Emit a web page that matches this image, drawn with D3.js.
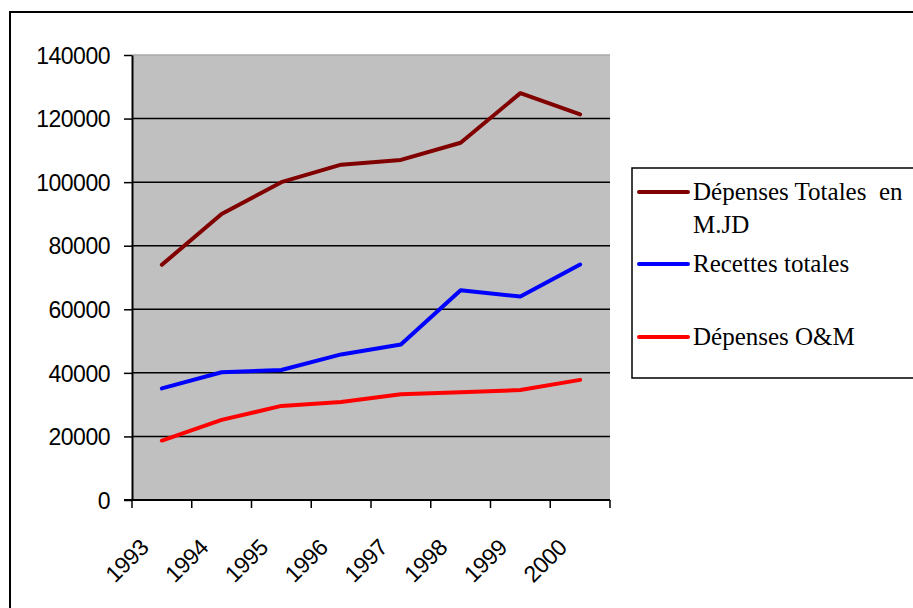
<!DOCTYPE html>
<html>
<head>
  <title>Dépenses et recettes</title>
  <script src="https://d3js.org/d3.v7.min.js"></script>
  <style>
    body { margin: 0; background: #fff; }
    .axis text { font-family: "Liberation Sans", Arial, sans-serif; font-size: 23px; fill: #000; letter-spacing: -0.5px; }
    .legend text { font-family: "Liberation Serif", "Times New Roman", serif; font-size: 25px; fill: #000; }
  </style>
</head>
<body>
<div id="chart"></div>
<script>
// data
const years = ["1993", "1994", "1995", "1996", "1997", "1998", "1999", "2000"];
const depensesTotales = [74000, 90000, 100000, 105500, 107000, 112400, 128000, 121300];
const recettesTotales = [35100, 40200, 40900, 45800, 48900, 66000, 64000, 74100];
const depensesOM = [18700, 25200, 29600, 30800, 33300, 33900, 34600, 37800];
const yTicks = [0, 20000, 40000, 60000, 80000, 100000, 120000, 140000];
const seriesNames = [["Dépenses Totales  en", "M.JD"], ["Recettes totales"], ["Dépenses O&M"]];
const seriesColors = ["#800000", "#0000ff", "#ff0000"];

const width = 913, height = 608;
const plot = { left: 132, right: 610, top: 55, bottom: 500 };

const svg = d3.select("#chart").append("svg")
  .attr("width", width)
  .attr("height", height);

// outer chart border (runs off the right and bottom of the picture)
svg.append("path")
  .attr("d", `M10,${height + 5} L10,12 L${width + 5},12`)
  .attr("fill", "none")
  .attr("stroke", "#000")
  .attr("stroke-width", 2);

const xScale = d3.scaleBand()
  .domain(years)
  .range([plot.left, plot.right])
  .paddingInner(0).paddingOuter(0);

const yScale = d3.scaleLinear()
  .domain([0, 140000])
  .range([plot.bottom, plot.top]);

// plot area
svg.append("rect")
  .attr("x", plot.left).attr("y", plot.top)
  .attr("width", plot.right - plot.left)
  .attr("height", plot.bottom - plot.top)
  .attr("fill", "#c0c0c0");

// gridlines
svg.append("g")
  .selectAll("line")
  .data(yTicks.filter(d => d > 0))
  .join("line")
  .attr("x1", plot.left).attr("x2", plot.right)
  .attr("y1", d => yScale(d)).attr("y2", d => yScale(d))
  .attr("stroke", d => d === 140000 ? "#a8a8a8" : "#000")
  .attr("stroke-width", 1.5);

// y axis
const yAxis = d3.axisLeft(yScale)
  .tickValues(yTicks)
  .tickFormat(d3.format("d"))
  .tickSize(8).tickSizeOuter(0).tickPadding(14);
const yAxisGroup = svg.append("g")
  .attr("class", "axis")
  .attr("transform", `translate(${plot.left},0)`)
  .call(yAxis);
yAxisGroup.selectAll("line, path").attr("stroke", "#000").attr("stroke-width", 1.5);
yAxisGroup.select(".domain").attr("stroke-width", 2);
yAxisGroup.selectAll("text").attr("dy", "0.36em");

// x axis: ticks sit between categories
const xAxisGroup = svg.append("g").attr("class", "axis");
xAxisGroup.append("line")
  .attr("x1", plot.left - 8).attr("x2", plot.right)
  .attr("y1", plot.bottom).attr("y2", plot.bottom)
  .attr("stroke", "#000").attr("stroke-width", 2);
xAxisGroup.selectAll("line.tick")
  .data(years.map(d => xScale(d)).concat([plot.right]))
  .join("line")
  .attr("class", "tick")
  .attr("x1", d => d).attr("x2", d => d)
  .attr("y1", plot.bottom).attr("y2", plot.bottom + 8)
  .attr("stroke", "#000").attr("stroke-width", 1.5);
xAxisGroup.selectAll("text")
  .data(years)
  .join("text")
  .attr("text-anchor", "end")
  .attr("transform", d => `translate(${xScale(d) + xScale.bandwidth() / 2 - 12},549) rotate(-45)`)
  .text(d => d);

// lines
const line = d3.line()
  .x((d, i) => xScale(years[i]) + xScale.bandwidth() / 2)
  .y(d => yScale(d));

[depensesTotales, recettesTotales, depensesOM].forEach((values, i) => {
  svg.append("path")
    .datum(values)
    .attr("d", line)
    .attr("fill", "none")
    .attr("stroke", seriesColors[i])
    .attr("stroke-width", 4)
    .attr("stroke-linejoin", "round")
    .attr("stroke-linecap", "round");
});

// legend
const legend = svg.append("g").attr("class", "legend");
legend.append("rect")
  .attr("x", 632).attr("y", 168)
  .attr("width", 300).attr("height", 210)
  .attr("fill", "#fff")
  .attr("stroke", "#000")
  .attr("stroke-width", 1.5);

const legendY = [192, 264, 337];
seriesNames.forEach((names, i) => {
  legend.append("line")
    .attr("x1", 639).attr("x2", 688)
    .attr("y1", legendY[i]).attr("y2", legendY[i])
    .attr("stroke", seriesColors[i])
    .attr("stroke-width", 4)
    .attr("stroke-linecap", "round");
  names.forEach((t, j) => {
    legend.append("text")
      .attr("x", 693)
      .attr("y", legendY[i] + 8 + j * 33)
      .attr("xml:space", "preserve")
      .style("white-space", "pre")
      .text(t);
  });
});
</script>
</body>
</html>
